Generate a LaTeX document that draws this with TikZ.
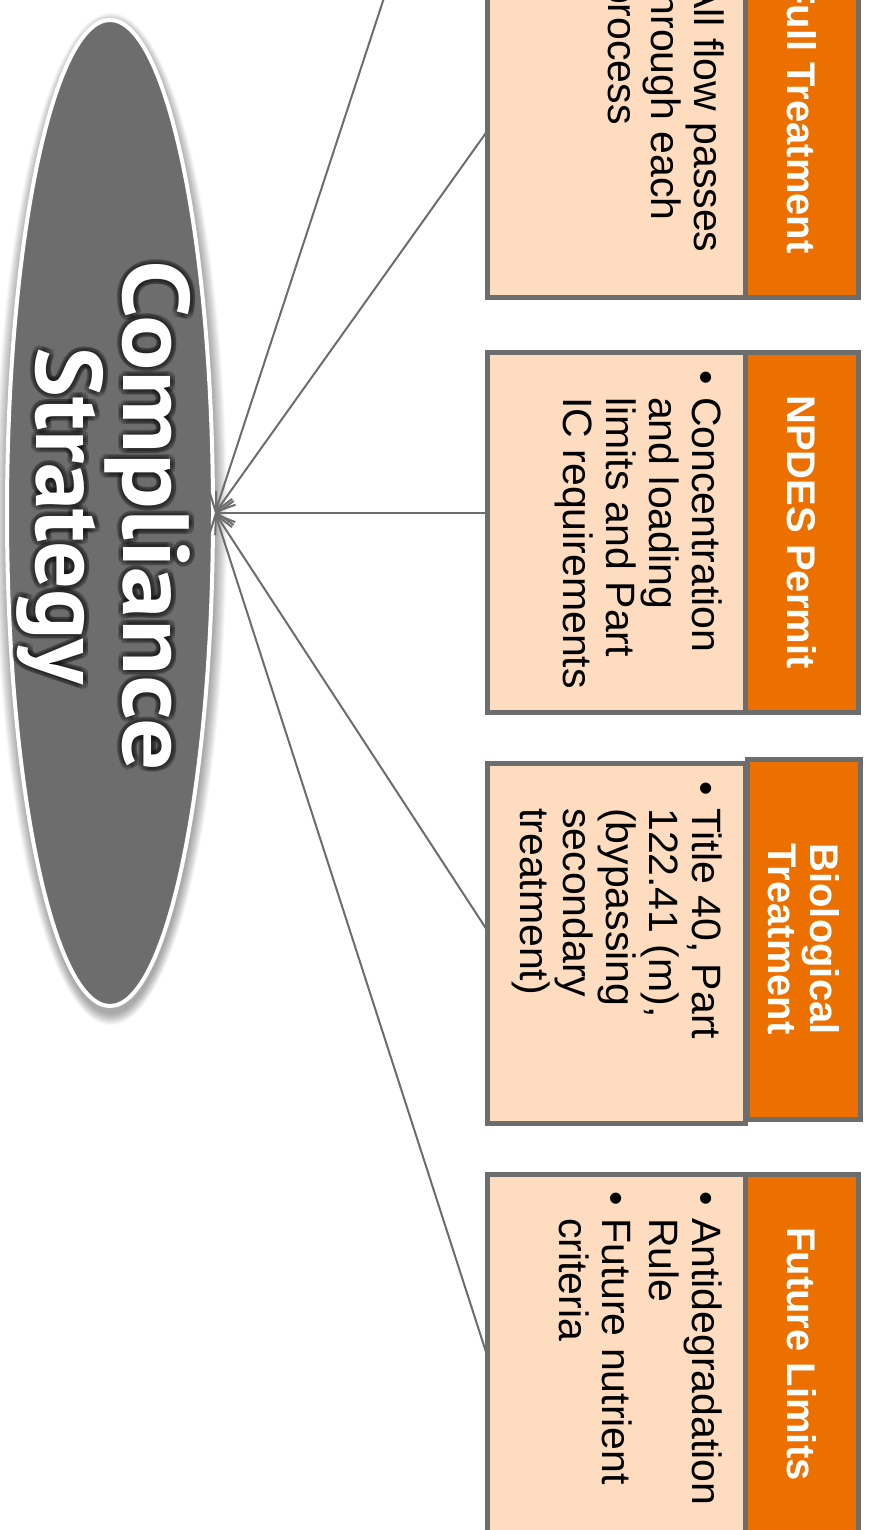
\documentclass[tikz,border=0pt]{standalone}
\usepackage{fontspec}
\setmainfont{Liberation Sans}
\newfontfamily\titlefont{PT Sans}
\usetikzlibrary{arrows.meta,shapes.geometric}
\definecolor{gr}{HTML}{6D6D6D}
\definecolor{org}{HTML}{EC7000}
\definecolor{pch}{HTML}{FDDCBF}
\newcommand\bl{\makebox[27pt][l]{\textbullet}}
\newcommand\ttl{\scalebox{1.1}[1]{Compliance}\\Strategy}
\tikzset{
 cbox/.style={draw=gr, line width=5pt, fill=pch, minimum width=258pt, minimum height=360pt, inner sep=0pt, outer sep=0pt},
 hbox/.style={draw=gr, line width=5pt, fill=org, minimum width=113pt, minimum height=360pt, inner sep=0pt, outer sep=0pt},
 htext/.style={rotate=-90, text=white, font=\fontsize{40}{42}\selectfont\bfseries, align=center, inner sep=0pt},
 btext/.style={rotate=-90, anchor=north west, inner sep=0pt, font=\fontsize{41}{43}\selectfont},
 ttext/.style={rotate=-90, align=center, inner sep=0pt, font=\titlefont\bfseries\fontsize{94}{76}\selectfont},
 conn/.style={draw=gr, line width=2pt, -{Straight Barb[length=17pt,width=24pt]}},
}
\begin{document}
\begin{tikzpicture}[x=1pt,y=-1pt]
\clip (0,0) rectangle (868,1530);
\fill[white] (0,0) rectangle (868,1530);
% ellipse shadow
\foreach \k in {1,...,12}{
  \fill[black, opacity=0.03] (111,519) ellipse [x radius={104pt+\k pt}, y radius={494pt+\k pt}];
}
\node[ellipse, draw=white, line width=4pt, fill=gr, minimum width=206pt, minimum height=986pt, inner sep=0pt, outer sep=2pt] (cs) at (110,513) {};
\foreach \a in {0,30,...,330}{
  \node[ttext, text=black, opacity=0.16, shift={(\a:5)}] (g\a) at (104,516) {\ttl};
}
\node[ttext, text=white] (title) at (104,516) {\ttl};

% connector end points on the boxes
\coordinate (c0) at (487,-316);
\coordinate (c1) at (488,130);
\coordinate (c2) at (487,513);
\coordinate (c3) at (487,930);
\coordinate (c4) at (487,1355);

% boxes
\node[cbox] (b1) at (616,117) {};
\node[hbox] (h1) at (801.5,117) {};
\node[htext] (t1) at (h1.center) {Full Treatment};
\node[btext] (x1) at (725,-46) {\begin{tabular}{@{}l@{}l@{}}\bl&All flow passes\\&through each\\&process\end{tabular}};

\node[cbox] (b2) at (616,532) {};
\node[hbox] (h2) at (801.5,532) {};
\node[htext] (t2) at (h2.center) {NPDES Permit};
\node[btext] (x2) at (723,370) {\begin{tabular}{@{}l@{}l@{}}\bl&Concentration\\&and loading\\&limits and Part\\&IC requirements\end{tabular}};

\node[cbox] (b3) at (616,943) {};
\node[hbox] (h3) at (804,939) {};
\node[htext] (t3) at (h3.center) {Biological\\Treatment};
\node[btext] (x3) at (723,781) {\begin{tabular}{@{}l@{}l@{}}\bl&Title 40, Part\\&122.41 (m),\\&(bypassing\\&secondary\\&treatment)\end{tabular}};

\node[cbox] (b4) at (616,1354) {};
\node[hbox] (h4) at (801.5,1354) {};
\node[htext] (t4) at (h4.center) {Future Limits};
\node[btext] (x4) at (723,1191) {\begin{tabular}{@{}l@{}l@{}}\bl&Antidegradation\\&Rule\\[4pt]\bl&Future nutrient\\&criteria\end{tabular}};

% connectors
\foreach \c in {c0,c1,c2,c3,c4}{
  \draw[conn] (\c) -- (cs.east);
}
\end{tikzpicture}
\end{document}
